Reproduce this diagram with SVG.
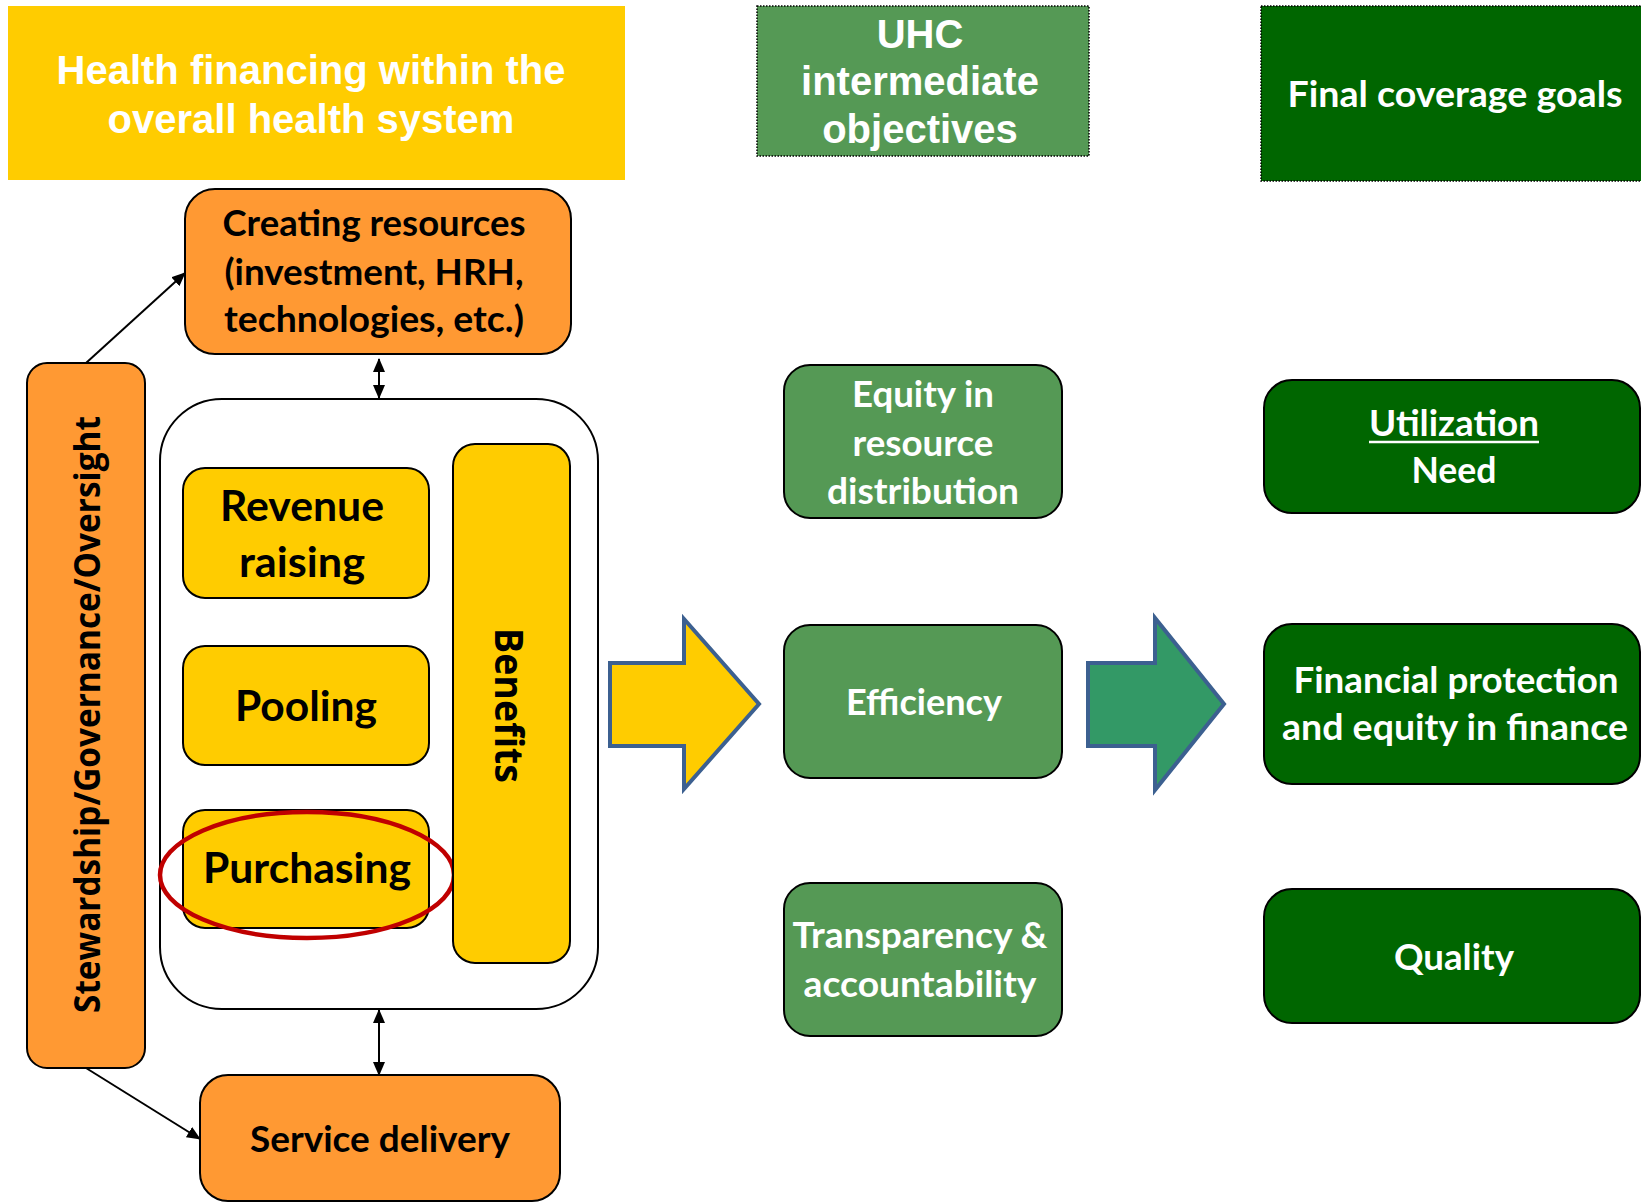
<svg xmlns="http://www.w3.org/2000/svg" width="1641" height="1203" viewBox="0 0 1641 1203">
<style>
.hdr{font-family:"Liberation Sans",Arial,sans-serif;font-weight:bold;font-size:40px;fill:#fff;text-anchor:middle}
.cal{font-family:Lato,"Open Sans",sans-serif;font-weight:bold;text-anchor:middle}
.w{fill:#fff}
.k{fill:#000}
.os{font-family:"Open Sans","DejaVu Sans",sans-serif;font-weight:bold;fill:#000;text-anchor:middle}
.box{stroke:#000;stroke-width:2}
.orange{fill:#FF9933}
.yellow{fill:#FFCC00}
.mg{fill:#559955}
.dg{fill:#006600}
.dotted{stroke:#000;stroke-width:1.5;stroke-dasharray:1.5 1.5}
.conn{stroke:#000;stroke-width:2;fill:none}
.big{stroke:#3C6090;stroke-width:4;stroke-linejoin:miter}
</style>
<defs>
<marker id="ah" markerUnits="userSpaceOnUse" markerWidth="14" markerHeight="12" refX="13" refY="6" orient="auto-start-reverse">
<path d="M0,0 L14,6 L0,12 z" fill="#000"/>
</marker>
</defs>

<g id="title">
<rect x="8" y="6" width="617" height="174" fill="#FFCC00"/>
<text class="hdr" x="311" y="84">Health financing within the</text>
<text class="hdr" x="311" y="133">overall health system</text>
</g>

<g id="uhc-header">
<rect x="757" y="6" width="332" height="150" class="mg dotted"/>
<text class="hdr" x="920" y="48">UHC</text>
<text class="hdr" x="920" y="95">intermediate</text>
<text class="hdr" x="920" y="143">objectives</text>
</g>

<g id="final-header">
<rect x="1261" y="6" width="384" height="175" class="dg dotted"/>
<text class="cal w" x="1455" y="107" font-size="37" textLength="335" lengthAdjust="spacingAndGlyphs">Final coverage goals</text>
</g>

<g id="creating-resources">
<rect x="185" y="189" width="386" height="165" rx="30" class="box orange"/>
<text class="cal k" x="374" y="236" font-size="36" textLength="303" lengthAdjust="spacingAndGlyphs">Creating resources</text>
<text class="cal k" x="374" y="285" font-size="36" textLength="299" lengthAdjust="spacingAndGlyphs">(investment, HRH,</text>
<text class="cal k" x="374" y="332" font-size="36" textLength="300" lengthAdjust="spacingAndGlyphs">technologies, etc.)</text>
</g>

<g id="stewardship">
<rect x="27" y="363" width="118" height="705" rx="20" class="box orange"/>
<text class="os" transform="translate(100,714.5) rotate(-90)" x="0" y="0" font-size="36" textLength="597" lengthAdjust="spacingAndGlyphs">Stewardship/Governance/Oversight</text>
</g>

<g id="financing-functions">
<rect x="160" y="399" width="438" height="610" rx="62" fill="#fff" stroke="#000" stroke-width="2"/>
</g>

<g id="revenue-raising">
<rect x="183" y="468" width="246" height="130" rx="22" class="box yellow"/>
<text class="cal k" x="302" y="521" font-size="42" textLength="164" lengthAdjust="spacingAndGlyphs">Revenue</text>
<text class="cal k" x="302" y="577" font-size="42" textLength="126" lengthAdjust="spacingAndGlyphs">raising</text>
</g>

<g id="pooling">
<rect x="183" y="646" width="246" height="119" rx="22" class="box yellow"/>
<text class="cal k" x="306" y="721" font-size="42" textLength="142" lengthAdjust="spacingAndGlyphs">Pooling</text>
</g>

<g id="purchasing">
<rect x="183" y="810" width="246" height="118" rx="22" class="box yellow"/>
<text class="cal k" x="307" y="883" font-size="42" textLength="208" lengthAdjust="spacingAndGlyphs">Purchasing</text>
<ellipse cx="307" cy="875" rx="147" ry="63" fill="none" stroke="#C00000" stroke-width="4.5"/>
</g>

<g id="benefits">
<rect x="453" y="444" width="117" height="519" rx="22" class="box yellow"/>
<text class="os" transform="translate(495,705.5) rotate(90)" x="0" y="0" font-size="40" textLength="155" lengthAdjust="spacingAndGlyphs">Benefits</text>
</g>

<g id="service-delivery">
<rect x="200" y="1075" width="360" height="126" rx="28" class="box orange"/>
<text class="cal k" x="380" y="1152" font-size="37" textLength="260" lengthAdjust="spacingAndGlyphs">Service delivery</text>
</g>

<g id="equity">
<rect x="784" y="365" width="278" height="153" rx="26" class="box mg"/>
<text class="cal w" x="923" y="407" font-size="36" textLength="142" lengthAdjust="spacingAndGlyphs">Equity in</text>
<text class="cal w" x="923" y="456" font-size="36" textLength="141" lengthAdjust="spacingAndGlyphs">resource</text>
<text class="cal w" x="923" y="504" font-size="36" textLength="192" lengthAdjust="spacingAndGlyphs">distribution</text>
</g>

<g id="efficiency">
<rect x="784" y="625" width="278" height="153" rx="26" class="box mg"/>
<text class="cal w" x="924" y="715" font-size="36" textLength="156" lengthAdjust="spacingAndGlyphs">Efficiency</text>
</g>

<g id="transparency">
<rect x="784" y="883" width="278" height="153" rx="26" class="box mg"/>
<text class="cal w" x="920" y="948" font-size="36" textLength="255" lengthAdjust="spacingAndGlyphs">Transparency &amp;</text>
<text class="cal w" x="920" y="997" font-size="36" textLength="233" lengthAdjust="spacingAndGlyphs">accountability</text>
</g>

<g id="utilization">
<rect x="1264" y="380" width="376" height="133" rx="28" class="box dg"/>
<text class="cal w" x="1454" y="436" font-size="37" textLength="170" lengthAdjust="spacingAndGlyphs">Utilization</text>
<line x1="1369" y1="442" x2="1539" y2="442" stroke="#fff" stroke-width="2.5"/>
<text class="cal w" x="1454" y="483" font-size="37" textLength="85" lengthAdjust="spacingAndGlyphs">Need</text>
</g>

<g id="financial-protection">
<rect x="1264" y="624" width="376" height="160" rx="28" class="box dg"/>
<text class="cal w" x="1456" y="693" font-size="37" textLength="325" lengthAdjust="spacingAndGlyphs">Financial protection</text>
<text class="cal w" x="1455" y="740" font-size="37" textLength="346" lengthAdjust="spacingAndGlyphs">and equity in finance</text>
</g>

<g id="quality">
<rect x="1264" y="889" width="376" height="134" rx="28" class="box dg"/>
<text class="cal w" x="1454" y="970" font-size="37" textLength="120" lengthAdjust="spacingAndGlyphs">Quality</text>
</g>

<g id="connectors">
<line class="conn" x1="86" y1="363" x2="185" y2="273" marker-end="url(#ah)"/>
<line class="conn" x1="86" y1="1068" x2="200" y2="1139" marker-end="url(#ah)"/>
<line class="conn" x1="379" y1="359" x2="379" y2="398" marker-start="url(#ah)" marker-end="url(#ah)"/>
<line class="conn" x1="379" y1="1010" x2="379" y2="1075" marker-start="url(#ah)" marker-end="url(#ah)"/>
<polygon class="big" fill="#FFCC00" points="610,663 684,663 684,619 759,704 684,789 684,746 610,746"/>
<polygon class="big" fill="#339966" points="1088,663 1155,663 1155,618 1224,704 1155,790 1155,746 1088,746"/>
</g>
</svg>
